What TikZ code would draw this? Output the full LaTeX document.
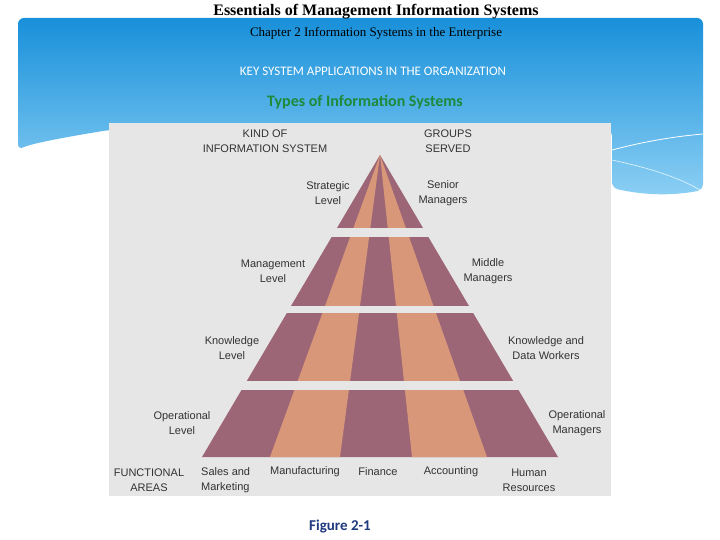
\documentclass[tikz,border=0pt]{standalone}
\usepackage{fontspec}
\setmainfont{Liberation Serif}
\newfontfamily\carl{Carlito}
\newfontfamily\arl{Liberation Sans}
\definecolor{mauve}{HTML}{9C6676}
\definecolor{peach}{HTML}{D9977A}
\definecolor{panel}{HTML}{E6E6E6}
\definecolor{blueA}{HTML}{1890DA}
\definecolor{blueB}{HTML}{8DD0F4}
\definecolor{greenT}{HTML}{1E8A3A}
\definecolor{navy}{HTML}{203A80}
\begin{document}
\begin{tikzpicture}[x=1pt,y=-1pt,
  lab/.style={font=\arl\fontsize{11}{15}\selectfont,text=black!80,align=center,inner sep=0},
  gap/.style={fill=panel,draw=none}]
\useasboundingbox (0,0) rectangle (720,540);
\fill[white] (0,0) rectangle (720,540);
% blue banner
\shade[top color=blueA,bottom color=blueB,rounded corners=6]
  (18,18) -- (703,18) -- (703,190) .. controls (660,198) and (630,192) .. (612,188)
  -- (612,130) -- (109,130) .. controls (60,138) and (30,144) .. (18,150) -- cycle;
\draw[white,line width=0.8] (612,150) .. controls (650,140) and (680,136) .. (703,134);
\draw[white!80!blueB,line width=0.6] (612,160) .. controls (650,168) and (680,178) .. (700,190);
% titles
\node[font=\bfseries\fontsize{16}{18}\selectfont,inner sep=0] (title) at (376,12) {Essentials of Management Information Systems};
\node[font=\fontsize{13}{15}\selectfont,inner sep=0] (chap) at (376,33) {Chapter 2 Information Systems in the Enterprise};
\node[font=\carl\fontsize{13}{15}\selectfont,text=white,inner sep=0] (key) at (373,71) {KEY SYSTEM APPLICATIONS IN THE ORGANIZATION};
\node[font=\carl\bfseries\fontsize{16}{18}\selectfont,text=greenT,inner sep=0] (types) at (365,102) {Types of Information Systems};
% panel
\fill[panel] (109,123) rectangle (611,496);
% pyramid
\coordinate (apex) at (380,155);
\fill[mauve] (apex) -- (202,457) -- (558,457) -- cycle;
\fill[peach] (apex) -- (270,457) -- (340,457) -- cycle;
\fill[peach] (apex) -- (412,457) -- (487,457) -- cycle;
\fill[gap] (190,228) rectangle (570,237);
\fill[gap] (190,306) rectangle (570,313);
\fill[gap] (190,381) rectangle (570,390);
% labels
\node[lab] (kind) at (265,141) {KIND OF\\INFORMATION SYSTEM};
\node[lab] (grp) at (448,141) {GROUPS\\SERVED};
\node[lab] (strat) at (328,193) {Strategic\\Level};
\node[lab] (senior) at (443,193) {Senior\\Managers};
\node[lab] (mgmt) at (273,271) {Management\\Level};
\node[lab] (middle) at (488,271) {Middle\\Managers};
\node[lab] (know) at (232,348) {Knowledge\\Level};
\node[lab] (kdw) at (546,348) {Knowledge and\\Data Workers};
\node[lab] (oper) at (182,423) {Operational\\Level};
\node[lab] (opm) at (577,423) {Operational\\Managers};
\node[lab] (func) at (149,480) {FUNCTIONAL\\AREAS};
\node[lab,align=left,anchor=west] (sales) at (201,480) {Sales and\\Marketing};
\node[lab] (manu) at (305,472) {Manufacturing};
\node[lab] (fin) at (378,472) {Finance};
\node[lab] (acc) at (451,472) {Accounting};
\node[lab] (hr) at (529,480) {Human\\Resources};
\node[font=\carl\bfseries\fontsize{15}{17}\selectfont,text=navy,inner sep=0] (fig) at (340,527) {Figure 2-1};
\end{tikzpicture}
\end{document}
